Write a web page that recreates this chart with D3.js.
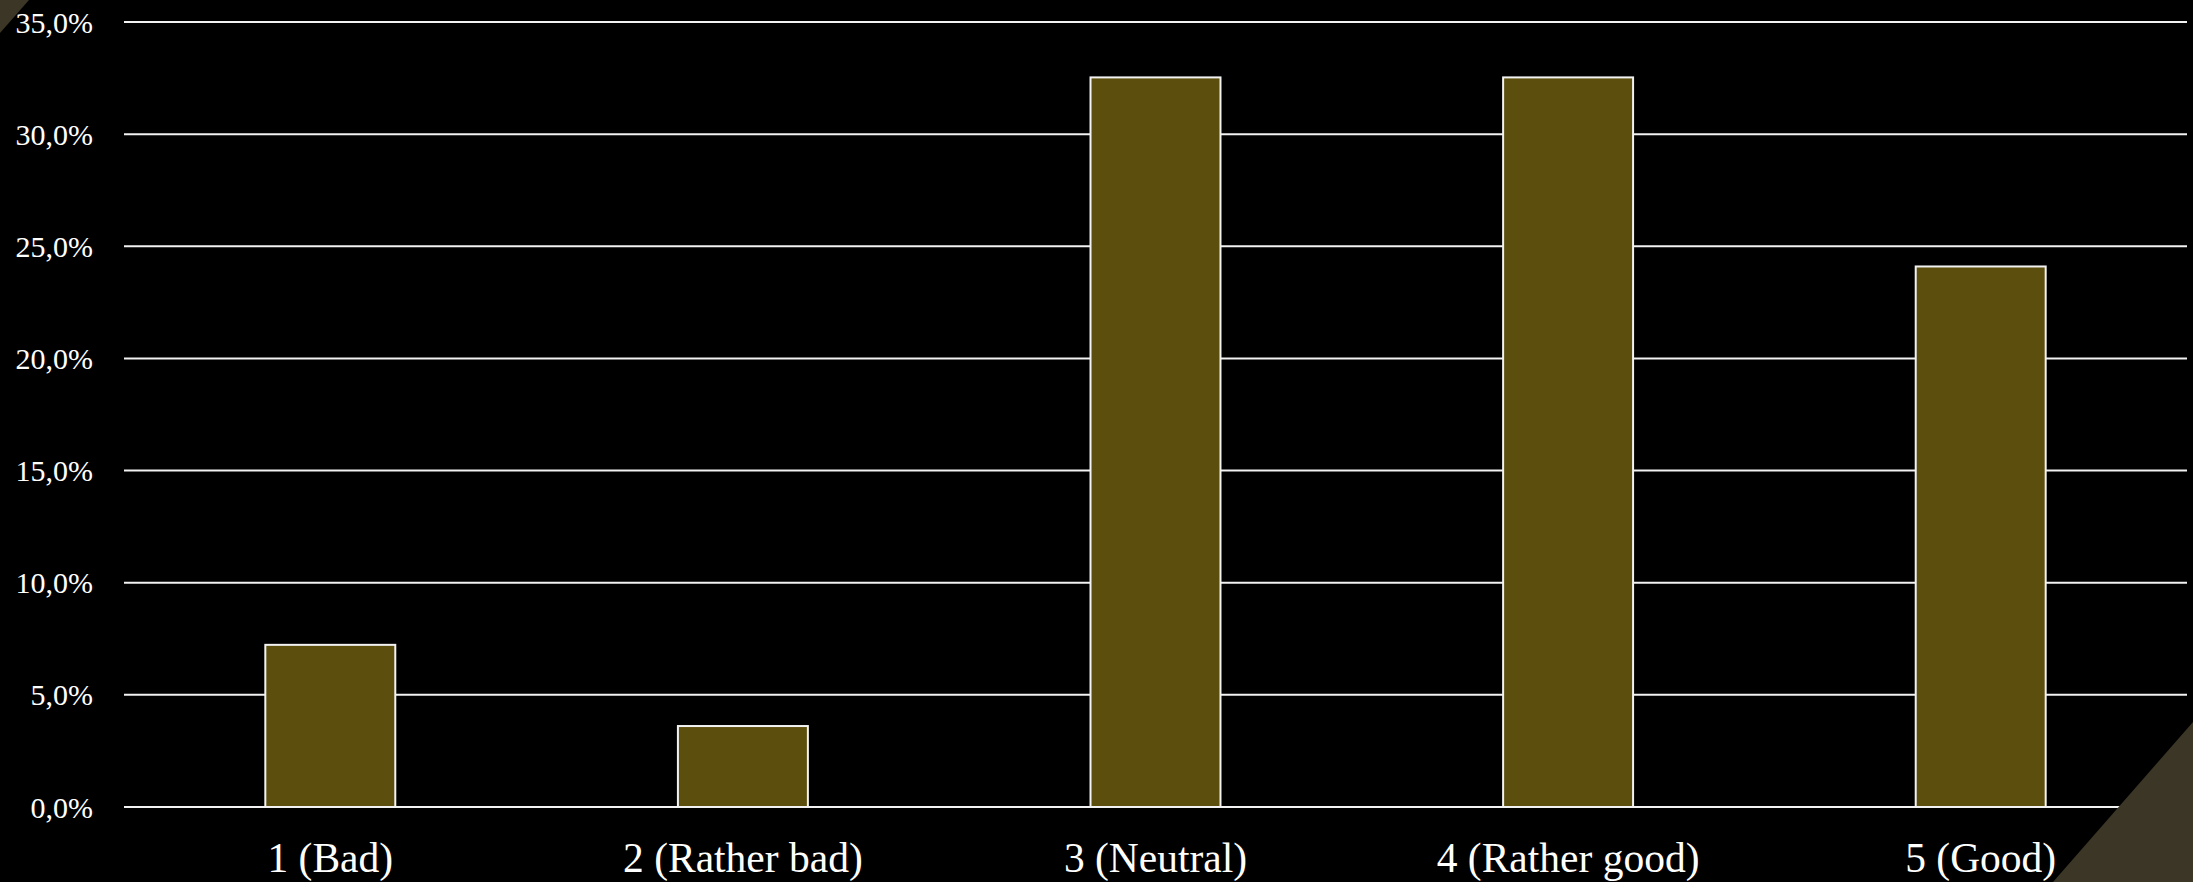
<!DOCTYPE html>
<html>
<head>
<meta charset="utf-8">
<script src="https://cdn.jsdelivr.net/npm/d3@7"></script>
<style>
html,body{margin:0;padding:0;background:#000;}
svg{display:block;}
svg text{font-family:"Liberation Serif","Times New Roman",Times,serif;}
</style>
</head>
<body>
<script>
const categories = ["1 (Bad)", "2 (Rather bad)", "3 (Neutral)", "4 (Rather good)", "5 (Good)"];
const values = [7.23, 3.61, 32.53, 32.53, 24.10];
const yTicks = [0, 5, 10, 15, 20, 25, 30, 35];

const W = 2193, H = 882;
const svg = d3.select("body").append("svg").attr("width", W).attr("height", H);
svg.append("rect").attr("width", W).attr("height", H).attr("fill", "#000");

const x = d3.scaleBand().domain(categories).range([124, 2187]).paddingInner(0.685).paddingOuter(0.3425);
const y = d3.scaleLinear().domain([0, 35]).range([807, 22]);

// gridlines
svg.append("g").selectAll("line").data(yTicks).join("line")
  .attr("x1", 124).attr("x2", 2187)
  .attr("y1", d => y(d)).attr("y2", d => y(d))
  .attr("stroke", "#f2f2f2").attr("stroke-width", 2);

// y labels
const fmt = d => d.toFixed(1).replace(".", ",") + "%";
svg.append("g").selectAll("text").data(yTicks).join("text")
  .attr("x", 93).attr("y", d => y(d))
  .attr("dy", "0.35em")
  .attr("text-anchor", "end")
  .attr("fill", "#fff")
  .style("font-size", "30px")
  .text(fmt);

// bars
svg.append("g").selectAll("rect").data(values).join("rect")
  .attr("x", (d, i) => x(categories[i]))
  .attr("width", x.bandwidth())
  .attr("y", d => y(d))
  .attr("height", d => y(0) - y(d))
  .attr("fill", "#5c4f0e")
  .attr("stroke", "#f2f2f2").attr("stroke-width", 2);

// x labels
svg.append("g").selectAll("text").data(categories).join("text")
  .attr("x", d => x(d) + x.bandwidth() / 2)
  .attr("y", 872)
  .attr("text-anchor", "middle")
  .attr("fill", "#fff")
  .style("font-size", "41.5px")
  .text(d => d);

// decorative corner triangles
svg.append("path").attr("d", "M0,0 L29,0 L0,33 Z").attr("fill", "#3c3626");
svg.append("path").attr("d", `M${W},722 L${W},${H} L2053,${H} Z`).attr("fill", "#3c3626");
</script>
</body>
</html>
